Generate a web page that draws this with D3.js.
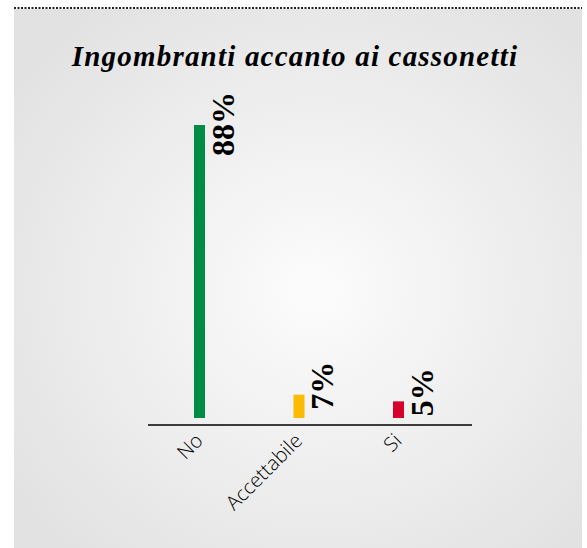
<!DOCTYPE html>
<html>
<head>
<meta charset="utf-8">
<script src="https://cdn.jsdelivr.net/npm/d3@7"></script>
<style>
  body { margin: 0; background: #fff; }
  svg { display: block; }
</style>
</head>
<body>
<svg id="chart" width="587" height="548"></svg>
<script>
// data
var categories = ["No", "Accettabile", "Si"];
var values = [88, 7, 5];
var barColors = ["#008c45", "#fbbb00", "#d5002b"];
var titleText = "Ingombranti accanto ai cassonetti";

var width = 587, height = 548;
var svg = d3.select("#chart");

// background panel with soft radial shading
var defs = svg.append("defs");
var grad = defs.append("radialGradient")
    .attr("id", "bg")
    .attr("cx", "53%").attr("cy", "52%").attr("r", "65%");
grad.append("stop").attr("offset", "0%").attr("stop-color", "#fcfcfc");
grad.append("stop").attr("offset", "100%").attr("stop-color", "#e2e2e2");

svg.append("rect")
    .attr("x", 14).attr("y", 9)
    .attr("width", 568).attr("height", height - 9)
    .attr("fill", "url(#bg)");

// dotted rule on top
svg.append("line")
    .attr("x1", 14).attr("x2", 582)
    .attr("y1", 8).attr("y2", 8)
    .attr("stroke", "#222")
    .attr("stroke-width", 2)
    .attr("stroke-dasharray", "2,1.5");

svg.append("text")
    .attr("x", 295).attr("y", 66)
    .attr("text-anchor", "middle")
    .style("font-family", "'Liberation Serif', 'DejaVu Serif', serif")
    .style("font-weight", "bold")
    .style("font-style", "italic")
    .style("font-size", "29px")
    .style("letter-spacing", "1.2px")
    .attr("fill", "#000")
    .text(titleText);

// scales
var x = d3.scalePoint().domain(categories).range([199.5, 398.5]);
var y = d3.scaleLinear().domain([0, 88]).range([418, 125]);
var barW = 11;
var axisY = 425;

var data = categories.map(function(c, i) {
    return {cat: c, val: values[i], color: barColors[i]};
});

svg.selectAll(".bar")
    .data(data)
    .enter().append("rect")
    .attr("class", "bar")
    .attr("x", function(d) { return x(d.cat) - barW / 2; })
    .attr("y", function(d) { return y(d.val); })
    .attr("width", barW)
    .attr("height", function(d) { return y(0) - y(d.val); })
    .attr("fill", function(d) { return d.color; });

// value labels, rotated
svg.selectAll(".lbl")
    .data(data)
    .enter().append("text")
    .attr("class", "lbl")
    .attr("transform", function(d) {
        return "translate(" + (x(d.cat) + 34) + "," + (y(d.val) - 33) + ") rotate(-90)";
    })
    .attr("text-anchor", "end")
    .style("font-family", "'Liberation Serif', 'DejaVu Serif', serif")
    .style("font-weight", "bold")
    .style("font-size", "32px")
    .attr("fill", "#000")
    .text(function(d) { return d.val + "%"; });

// x axis
var axis = svg.append("g")
    .attr("transform", "translate(0," + axisY + ")")
    .call(d3.axisBottom(x).tickSize(0));
axis.select(".domain").remove();
axis.append("line")
    .attr("x1", 148).attr("x2", 472)
    .attr("stroke", "#000").attr("stroke-width", 1.5);
axis.selectAll(".tick text")
    .attr("text-anchor", "end")
    .attr("dy", null)
    .attr("y", 0)
    .attr("transform", "translate(4,17) rotate(-45)")
    .style("font-family", "'Open Sans', sans-serif")
    .style("font-weight", "300")
    .style("font-size", "20px")
    .attr("fill", "#000");
</script>
</body>
</html>
